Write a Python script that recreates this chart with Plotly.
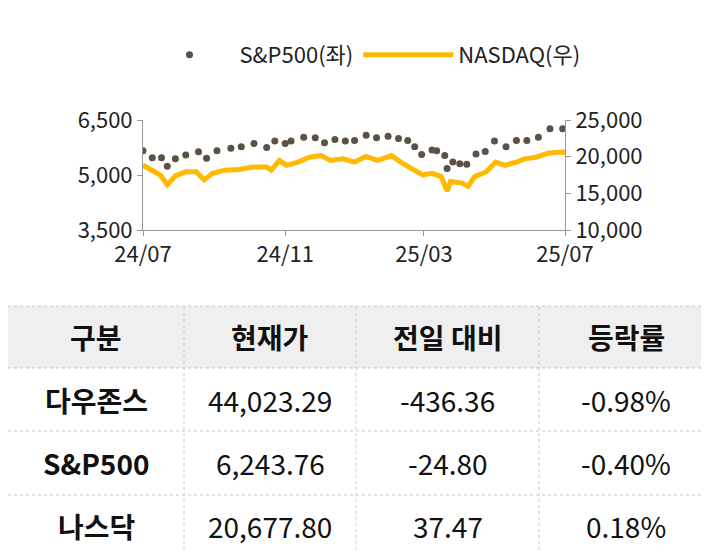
import plotly.graph_objects as go

sp_dates = ["2024-07-01","2024-07-09","2024-07-17","2024-07-22","2024-07-29","2024-08-07","2024-08-18","2024-08-25",
            "2024-09-03","2024-09-15","2024-09-24","2024-10-05","2024-10-16","2024-10-23","2024-11-01","2024-11-06",
            "2024-11-17","2024-11-27","2024-12-05","2024-12-14","2024-12-23","2024-12-31","2025-01-10","2025-01-19",
            "2025-01-29","2025-02-07","2025-02-15","2025-02-21","2025-02-27","2025-03-08","2025-03-12","2025-03-19",
            "2025-03-21","2025-03-26","2025-04-01","2025-04-07","2025-04-15","2025-04-23","2025-05-01","2025-05-11",
            "2025-05-20","2025-05-29","2025-06-08","2025-06-18","2025-06-29"]
sp_vals = [5662,5468,5468,5238,5441,5547,5635,5459,5662,5732,5768,5856,5750,5926,5856,5926,6032,6015,5882,5971,
           5926,5944,6085,6015,6059,5997,5944,5768,5556,5679,5662,5529,5176,5353,5309,5291,5574,5644,5926,5768,
           5944,5944,6032,6262,6262]

nq_dates = ["2024-07-01","2024-07-08","2024-07-16","2024-07-22","2024-07-29","2024-08-07","2024-08-16","2024-08-23",
            "2024-08-30","2024-09-10","2024-09-22","2024-10-04","2024-10-16","2024-10-20","2024-10-27","2024-11-02",
            "2024-11-12","2024-11-22","2024-12-02","2024-12-10","2024-12-21","2024-12-31","2025-01-10","2025-01-20",
            "2025-02-01","2025-02-11","2025-02-21","2025-02-28","2025-03-08","2025-03-16","2025-03-21","2025-03-24",
            "2025-04-03","2025-04-08","2025-04-14","2025-04-24","2025-05-02","2025-05-10","2025-05-20","2025-05-27",
            "2025-06-06","2025-06-16","2025-06-24","2025-07-01"]
nq_vals = [18823,18160,17500,16176,17367,17940,17940,16838,17720,18160,18250,18600,18600,18160,19485,18823,
           19265,19926,20147,19485,19706,19265,20015,19485,20147,19044,18160,17500,17720,17280,15293,16617,
           16397,15956,17280,17940,19265,18823,19265,19706,19926,20456,20588,20588]

tick_vals = ["2024-07-01","2024-11-01","2025-03-01","2025-07-01"]
tick_text = ["24/07","24/11","25/03","25/07"]

header = ["구분","현재가","전일 대비","등락률"]
names = ["다우존스","S&P500","나스닥"]
prices = ["44,023.29","6,243.76","20,677.80"]
changes = ["-436.36","-24.80","37.47"]
rates = ["-0.98%","-0.40%","0.18%"]

FONT = "Noto Sans CJK KR"
W, H = 709, 552
fig = go.Figure()
fig.add_trace(go.Scatter(x=sp_dates, y=sp_vals, mode="markers", name="S&P500(좌)",
                         marker=dict(size=7, color="#5b5147")))
fig.add_trace(go.Scatter(x=nq_dates, y=nq_vals, mode="lines", name="NASDAQ(우)", yaxis="y2",
                         line=dict(color="#FFB900", width=5)))

# table drawn with shapes + annotations (pixel -> paper)
def px(x): return x / W
def py(y): return 1 - y / H
col_edges = [0, 176, 348, 531, 705]
row_edges = [298, 360, 423, 487, 548]
shapes = [dict(type="rect", xref="paper", yref="paper", x0=px(0), x1=px(705), y0=py(360), y1=py(298),
               fillcolor="#efefef", line=dict(width=0), layer="below")]
for y in row_edges:
    shapes.append(dict(type="line", xref="paper", yref="paper", x0=px(0), x1=px(705), y0=py(y), y1=py(y),
                       line=dict(color="#c8c8c8", width=1, dash="dot")))
for x in col_edges[1:-1]:
    shapes.append(dict(type="line", xref="paper", yref="paper", x0=px(x), x1=px(x), y0=py(548), y1=py(298),
                       line=dict(color="#c8c8c8", width=1, dash="dot")))
shapes.append(dict(type="line", xref="paper", yref="paper", x0=px(706), x1=px(706), y0=0, y1=1,
                   line=dict(color="#e8dcb0", width=4)))

rows = [header] + [list(r) for r in zip(names, prices, changes, rates)]
annots = []
for ri, row in enumerate(rows):
    yc = (row_edges[ri] + row_edges[ri + 1]) / 2
    for ci, txt in enumerate(row):
        xc = (col_edges[ci] + col_edges[ci + 1]) / 2
        bold = ri == 0 or ci == 0
        annots.append(dict(xref="paper", yref="paper", x=px(xc), y=py(yc), showarrow=False,
                           text="<b>%s</b>" % txt if bold else txt,
                           font=dict(family=FONT, size=28, color="#111"),
                           xanchor="center", yanchor="middle"))

fig.update_layout(
    width=W, height=H, margin=dict(l=0, r=0, t=0, b=0, autoexpand=False),
    paper_bgcolor="white", plot_bgcolor="white",
    font=dict(family=FONT, size=22, color="#222"),
    showlegend=True,
    legend=dict(orientation="h", x=0.5, xanchor="center", y=1 - 47 / H, yanchor="middle",
                font=dict(size=22), itemwidth=90),
    xaxis=dict(domain=[px(135), px(557)], type="date", range=["2024-07-01", "2025-07-01"],
               tickvals=tick_vals, ticktext=tick_text, showgrid=False, automargin=False,
               showline=True, linecolor="#999", ticks="outside", tickcolor="#999", ticklen=5),
    yaxis=dict(domain=[py(222), py(112)], range=[3500, 6500], tickvals=[3500, 5000, 6500],
               tickformat=",", showgrid=False, showline=True, linecolor="#999", automargin=False,
               ticks="outside", tickcolor="#999", ticklen=5, zeroline=False),
    yaxis2=dict(overlaying="y", side="right", range=[10000, 25000], automargin=False,
                tickvals=[10000, 15000, 20000, 25000], tickformat=",", showgrid=False,
                showline=True, linecolor="#999", ticks="outside", tickcolor="#999", ticklen=5,
                zeroline=False),
    shapes=shapes, annotations=annots,
)
fig.write_html("out.html")
